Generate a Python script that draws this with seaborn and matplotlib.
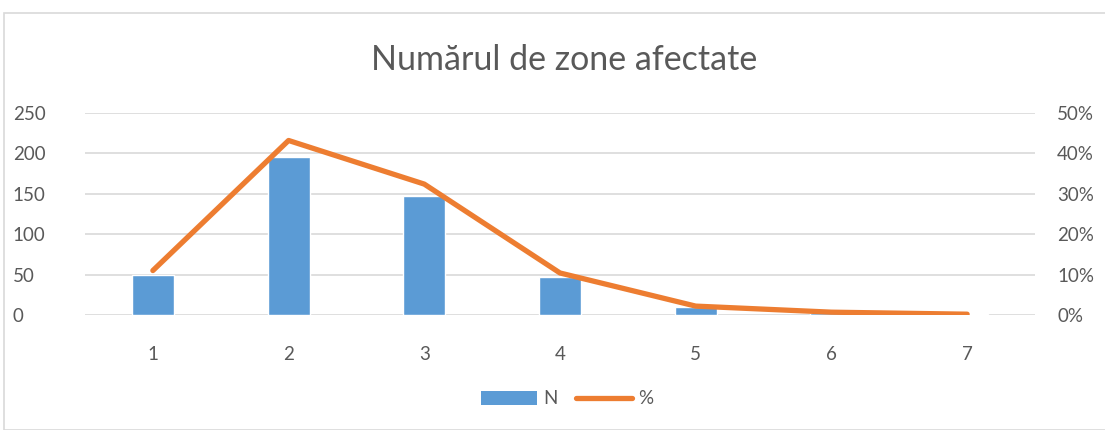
import numpy as np
import pandas as pd
import matplotlib
matplotlib.use("Agg")
import matplotlib.pyplot as plt
import seaborn as sns
from matplotlib.patches import Patch, Rectangle
from matplotlib.lines import Line2D

# values
zones = [1, 2, 3, 4, 5, 6, 7]
n_counts = [50, 196, 147, 47, 10, 3, 1]
pct = [11.0, 43.2, 32.4, 10.4, 2.2, 0.7, 0.2]

left_ticks = [0, 50, 100, 150, 200, 250]
right_ticks = [0, 10, 20, 30, 40, 50]

bar_color = "#5B9BD5"
line_color = "#ED7D31"
text_color = "#595959"
grid_color = "#D9D9D9"

sns.set_theme(style="white")
plt.rcParams['font.family'] = ['Lato', 'DejaVu Sans']

df = pd.DataFrame({"zone": zones, "N": n_counts, "pct": pct})

fig = plt.figure(figsize=(11.05, 4.3), dpi=100)
ax = fig.add_axes([85 / 1105, 1 - 315 / 430, 950 / 1105, 202 / 430])

# chart frame
fig.patches.append(Rectangle((4 / 1105, 0), 1.2, 1 - 13 / 430,
                             transform=fig.transFigure, fill=False,
                             edgecolor=grid_color, linewidth=1.2))

sns.barplot(data=df, x="zone", y="N", native_scale=True, width=0.31,
            color=bar_color, saturation=1, ax=ax, zorder=2)
ax.set_xlim(0.5, 7.5)
ax.set_ylim(0, 250)
ax.set_yticks(left_ticks)
ax.set_xticks(zones)
ax.set_xticklabels([str(z) for z in zones])
ax.yaxis.grid(True, color=grid_color, linewidth=1.2, zorder=0)
ax.set_axisbelow(True)
for s in ax.spines.values():
    s.set_visible(False)
ax.tick_params(axis="y", length=0, pad=52, labelsize=13.5, labelcolor=text_color)
ax.tick_params(axis="x", length=0, pad=22, labelsize=13.5, labelcolor=text_color)
for lbl in ax.get_yticklabels():
    lbl.set_horizontalalignment("left")
ax.set_xlabel("")
ax.set_ylabel("")

ax2 = ax.twinx()
sns.lineplot(data=df, x="zone", y="pct", color=line_color, linewidth=3.8,
             ax=ax2, solid_capstyle="round", zorder=3)
ax2.set_ylim(0, 50)
ax2.set_yticks(right_ticks)
ax2.set_yticklabels([f"{t}%" for t in right_ticks])
ax2.tick_params(axis="y", length=0, pad=16, labelsize=13.5, labelcolor=text_color)
for s in ax2.spines.values():
    s.set_visible(False)
ax2.set_ylabel("")
ax2.set_xlabel("")

fig.text(564 / 1105, 1 - 60 / 430, "Numărul de zone afectate", ha="center",
         va="center", fontsize=24.5, color=text_color)

handles = [Patch(facecolor=bar_color, edgecolor="none"),
           Line2D([0], [0], color=line_color, linewidth=3.8, solid_capstyle="round")]
fig.legend(handles, ["N", "%"], loc="center", bbox_to_anchor=(567 / 1105, 1 - 399 / 430),
           ncol=2, frameon=False, fontsize=13.5, labelcolor=text_color,
           handlelength=3.0, handleheight=0.8, handletextpad=0.3, columnspacing=1.0)

fig.savefig("out.png", dpi=100)
